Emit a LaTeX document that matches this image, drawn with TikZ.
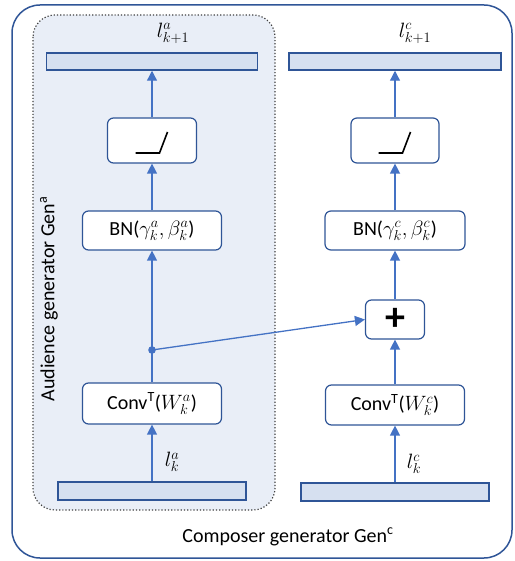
\documentclass[tikz,border=0pt]{standalone}
\usepackage{fontspec}
\setmainfont{Carlito}
\usetikzlibrary{arrows.meta}
\definecolor{lineblue}{HTML}{4472C4}
\definecolor{darkblue}{HTML}{2F5597}
\definecolor{panelfill}{HTML}{E9EEF7}
\definecolor{barfill}{HTML}{D6E0F0}
\begin{document}
\begin{tikzpicture}[x=1pt,y=-1pt,
  box/.style={draw=darkblue,line width=1.2pt,fill=white,rounded corners=6pt,inner sep=0pt,font=\fontsize{20}{24}\selectfont},
  bar/.style={draw=darkblue,line width=1.5pt,fill=barfill,inner sep=0pt},
  flow/.style={draw=lineblue,line width=1.3pt,-{Triangle[length=10pt,width=10pt]}},
  lbl/.style={font=\fontsize{20}{24}\selectfont},
  mlbl/.style={font=\fontsize{22}{24}\selectfont},
]
\useasboundingbox (0,0) rectangle (514,561);
% outer panel
\draw[darkblue,line width=1.5pt,rounded corners=28pt] (12,5) rectangle (512,558);
% inner dotted panel
\draw[black!75,line width=1.2pt,dotted,fill=panelfill,rounded corners=22pt] (33,15) rectangle (275,510);

% left column
\node[bar,minimum width=211pt,minimum height=17pt] (topA) at (152,61.5) {};
\node[box,minimum width=89pt,minimum height=45pt] (reluA) at (152,140.5) {};
\node[box,minimum width=139pt,minimum height=39pt] (bnA) at (152,230.5) {BN($\gamma_k^a,\beta_k^a$)};
\coordinate (dot) at (152,350);
\node[box,minimum width=139pt,minimum height=41pt] (convA) at (152,403.5) {Conv\textsuperscript{T}($W_k^a$)};
\node[bar,minimum width=188pt,minimum height=18pt] (botA) at (152,491) {};

% right column
\node[bar,minimum width=212pt,minimum height=17pt] (topC) at (395,61.5) {};
\node[box,minimum width=88pt,minimum height=45pt] (reluC) at (395,140.5) {};
\node[box,minimum width=140pt,minimum height=39pt] (bnC) at (395,230.5) {BN($\gamma_k^c,\beta_k^c$)};
\node[box,minimum width=59pt,minimum height=39pt,font=\fontsize{40}{40}\selectfont\bfseries] (plus) at (395,319.5) {+};
\node[box,minimum width=139pt,minimum height=40pt] (convC) at (395,405) {Conv\textsuperscript{T}($W_k^c$)};
\node[bar,minimum width=188pt,minimum height=18pt] (botC) at (395,492) {};

% relu glyphs
\foreach \n in {reluA,reluC}{
  \draw[black,line width=1.6pt] ([shift={(-16.5,12.5)}]\n.center) -- ([shift={(7.5,12.5)}]\n.center) -- ([shift={(15.5,-8.5)}]\n.center);
}

% labels
\node[mlbl] (ltopA) at (173,33) {$l_{k+1}^a$};
\node[mlbl] (ltopC) at (415,33) {$l_{k+1}^c$};
\node[mlbl] (lbotA) at (172,462) {$l_k^a$};
\node[mlbl] (lbotC) at (414,464) {$l_k^c$};
\node[lbl,rotate=90] (audl) at (49,299) {Audience generator Gen\textsuperscript{a}};
\node[lbl] (compl) at (288,537) {Composer generator Gen\textsuperscript{c}};

% connectors left
\draw[flow] (botA.north) -- (convA.south);
\draw[lineblue,line width=1.3pt] (convA.north) -- (dot);
\draw[flow] (dot) -- (bnA.south);
\draw[flow] (bnA.north) -- (reluA.south);
\draw[flow] (reluA.north) -- (topA.south);
\fill[lineblue] (dot) circle (3.8pt);
\draw[flow] (dot) -- (plus.west);

% connectors right
\draw[flow] (botC.north) -- (convC.south);
\draw[flow] (convC.north) -- (plus.south);
\draw[flow] (plus.north) -- (bnC.south);
\draw[flow] (bnC.north) -- (reluC.south);
\draw[flow] (reluC.north) -- (topC.south);
\end{tikzpicture}
\end{document}
